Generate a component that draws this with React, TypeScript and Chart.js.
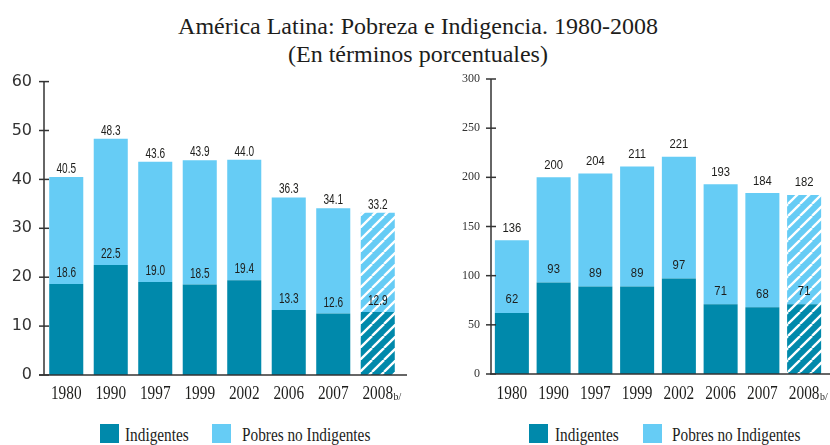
import React, { useEffect, useRef } from 'react';
import { Chart, registerables } from 'chart.js';

Chart.register(...registerables);

// ---- data ----
const years = ['1980', '1990', '1997', '1999', '2002', '2006', '2007', '2008'];
const pctTotal = [40.5, 48.3, 43.6, 43.9, 44.0, 36.3, 34.1, 33.2];
const pctIndig = [18.6, 22.5, 19.0, 18.5, 19.4, 13.3, 12.6, 12.9];
const milTotal = [136, 200, 204, 211, 221, 193, 184, 182];
const milIndig = [62, 93, 89, 89, 97, 71, 68, 71];
const pctTicks = [0, 10, 20, 30, 40, 50, 60];
const milTicks = [0, 50, 100, 150, 200, 250, 300];
const projectedIndex = 7;
const projectedSuffix = 'b/';
const seriesNames = ['Indigentes', 'Pobres no Indigentes'];
const titleLines = ['América Latina: Pobreza e Indigencia. 1980-2008', '(En términos porcentuales)'];

const DARK = '#0089AB';
const LIGHT = '#66CCF5';
const TEXT = '#1d1d1b';
const AXIS = '#333';

function hatch(color: string): CanvasPattern | string {
  const s = 12;
  const c = document.createElement('canvas');
  c.width = s;
  c.height = s;
  const g = c.getContext('2d');
  if (!g) return color;
  g.fillStyle = color;
  g.fillRect(0, 0, s, s);
  g.strokeStyle = '#fff';
  g.lineWidth = 2.3;
  for (const o of [-s, 0, s]) {
    g.beginPath();
    g.moveTo(o, s);
    g.lineTo(o + s, 0);
    g.stroke();
  }
  return g.createPattern(c, 'repeat') || color;
}

type Cfg = {
  total: number[];
  indig: number[];
  ticks: number[];
  max: number;
  decimals: number;
  barPct: number;
  yW: number;
  xH: number;
  padTop: number;
  padRight: number;
  yFont: { family: string; size: number };
  yPad: number;
  xExtL: number;
  xExtR: number;
  valFont: string;
  valCond: number;
  topGap: number;
  inGap: number;
  xBase: number;
};

function makeChart(canvas: HTMLCanvasElement, cfg: Cfg) {
  const nonIndig = cfg.total.map((t, i) => +(t - cfg.indig[i]).toFixed(2));
  const darkPat = hatch(DARK);
  const lightPat = hatch(LIGHT);
  const bg = (base: string, pat: any) => years.map((_, i) => (i === projectedIndex ? pat : base));

  const deco = {
    id: 'deco',
    afterDatasetsDraw(chart: any) {
      const { ctx, chartArea: a, scales } = chart;
      const x = scales.x;
      const y = scales.y;
      ctx.save();
      ctx.strokeStyle = AXIS;
      ctx.lineWidth = 1.5;
      const line = (x1: number, y1: number, x2: number, y2: number) => {
        ctx.beginPath();
        ctx.moveTo(x1, y1);
        ctx.lineTo(x2, y2);
        ctx.stroke();
      };
      line(a.left, y.getPixelForValue(cfg.max), a.left, a.bottom);
      cfg.ticks.forEach((v) => {
        const py = y.getPixelForValue(v);
        line(a.left - 5, py, a.left + 5, py);
      });
      line(a.left - cfg.xExtL, a.bottom, a.right + cfg.xExtR, a.bottom);

      // value labels
      ctx.fillStyle = TEXT;
      ctx.textAlign = 'center';
      ctx.textBaseline = 'middle';
      ctx.font = cfg.valFont;
      const txt = (s: string, px: number, py: number, cond: number) => {
        ctx.save();
        ctx.translate(px, py);
        ctx.scale(cond, 1);
        ctx.fillText(s, 0, 0);
        ctx.restore();
      };
      years.forEach((_, i) => {
        const px = x.getPixelForValue(i);
        txt(cfg.total[i].toFixed(cfg.decimals), px, y.getPixelForValue(cfg.total[i]) - cfg.topGap, cfg.valCond);
        txt(cfg.indig[i].toFixed(cfg.decimals), px, y.getPixelForValue(cfg.indig[i]) - cfg.inGap, cfg.valCond);
      });

      // category labels
      ctx.textBaseline = 'alphabetic';
      ctx.font = '18px "Liberation Serif", serif';
      const cond = 0.85;
      years.forEach((lab, i) => {
        const px = x.getPixelForValue(i);
        txt(lab, px, cfg.xBase, cond);
        if (i === projectedIndex) {
          const w = ctx.measureText(lab).width * cond;
          ctx.save();
          ctx.font = '11px "Liberation Serif", serif';
          ctx.textAlign = 'left';
          ctx.translate(px + w / 2 + 0.5, cfg.xBase + 1);
          ctx.scale(0.9, 1);
          ctx.fillText(projectedSuffix, 0, 0);
          ctx.restore();
          ctx.font = '18px "Liberation Serif", serif';
        }
      });
      ctx.restore();
    },
  };

  return new Chart(canvas, {
    type: 'bar',
    data: {
      labels: years,
      datasets: [
        {
          label: seriesNames[0],
          data: cfg.indig,
          backgroundColor: bg(DARK, darkPat),
          borderWidth: 0,
          barPercentage: cfg.barPct,
          categoryPercentage: 1,
        },
        {
          label: seriesNames[1],
          data: nonIndig,
          backgroundColor: bg(LIGHT, lightPat),
          borderWidth: 0,
          barPercentage: cfg.barPct,
          categoryPercentage: 1,
        },
      ],
    },
    options: {
      animation: false,
      responsive: false,
      maintainAspectRatio: false,
      events: [],
      layout: { padding: { left: 0, right: cfg.padRight, top: cfg.padTop, bottom: 0 } },
      plugins: { legend: { display: false }, tooltip: { enabled: false } },
      scales: {
        x: {
          stacked: true,
          grid: { display: false, drawTicks: false },
          border: { display: false },
          ticks: { display: false, autoSkip: false, maxRotation: 0 },
          afterFit: (s: any) => {
            s.height = cfg.xH;
          },
        },
        y: {
          stacked: true,
          min: 0,
          max: cfg.max,
          grid: { display: false, drawTicks: false },
          border: { display: false },
          afterBuildTicks: (s: any) => {
            s.ticks = cfg.ticks.map((v) => ({ value: v }));
          },
          ticks: { font: cfg.yFont, color: AXIS, padding: cfg.yPad },
          afterFit: (s: any) => {
            s.width = cfg.yW;
          },
        },
      },
    } as any,
    plugins: [deco as any],
  });
}

function Legend({ left, dark, darkText, light, lightText }: any) {
  const sq = (x: number, c: string) => (
    <div style={{ position: 'absolute', left: x - left, top: 0, width: 19, height: 19, background: c }} />
  );
  const tx = (x: number, s: string) => (
    <div
      style={{
        position: 'absolute',
        left: x - left,
        top: 1.6,
        font: '18px "Liberation Serif", serif',
        lineHeight: '18px',
        color: TEXT,
        whiteSpace: 'nowrap',
        transform: 'scaleX(0.85)',
        transformOrigin: 'left center',
      }}
    >
      {s}
    </div>
  );
  return (
    <div style={{ position: 'absolute', left, top: 424, width: 300, height: 20 }}>
      {sq(dark, DARK)}
      {tx(darkText, seriesNames[0])}
      {sq(light, LIGHT)}
      {tx(lightText, seriesNames[1])}
    </div>
  );
}

export default function App() {
  const leftRef = useRef<HTMLCanvasElement>(null);
  const rightRef = useRef<HTMLCanvasElement>(null);

  useEffect(() => {
    const c1 = makeChart(leftRef.current!, {
      total: pctTotal,
      indig: pctIndig,
      ticks: pctTicks,
      max: 60,
      decimals: 1,
      barPct: 0.765,
      yW: 44,
      xH: 35,
      padTop: 20,
      padRight: 15,
      yFont: { family: '"DejaVu Sans", sans-serif', size: 16 },
      yPad: 12,
      xExtL: 5,
      xExtR: 7,
      valFont: '14px "Liberation Sans", sans-serif',
      valCond: 0.72,
      topGap: 8,
      inGap: 10.5,
      xBase: 338.6,
    });
    const c2 = makeChart(rightRef.current!, {
      total: milTotal,
      indig: milIndig,
      ticks: milTicks,
      max: 300,
      decimals: 0,
      barPct: 0.815,
      yW: 51,
      xH: 36,
      padTop: 19,
      padRight: 5,
      yFont: { family: '"Liberation Serif", serif', size: 12 },
      yPad: 11,
      xExtL: 1,
      xExtR: 10,
      valFont: '12.5px "Liberation Sans", sans-serif',
      valCond: 0.9,
      topGap: 12,
      inGap: 13,
      xBase: 339,
    });
    return () => {
      c1.destroy();
      c2.destroy();
    };
  }, []);

  return (
    <div style={{ position: 'fixed', left: 0, top: 0, width: 830, height: 445, background: '#fff', overflow: 'hidden' }}>
      <div
        style={{
          position: 'absolute',
          left: 0,
          top: 11.5,
          width: 836,
          textAlign: 'center',
          font: '24px "Liberation Serif", serif',
          lineHeight: '28px',
          color: TEXT,
        }}
      >
        <div>{titleLines[0]}</div>
        <div>{titleLines[1]}</div>
      </div>
      <canvas ref={leftRef} width={415} height={350} style={{ position: 'absolute', left: 0, top: 60, width: 415, height: 350 }} />
      <canvas ref={rightRef} width={390} height={350} style={{ position: 'absolute', left: 440, top: 60, width: 390, height: 350 }} />
      <Legend left={100} dark={100} darkText={125} light={212} lightText={242} />
      <Legend left={529} dark={529} darkText={555} light={643} lightText={672} />
    </div>
  );
}
